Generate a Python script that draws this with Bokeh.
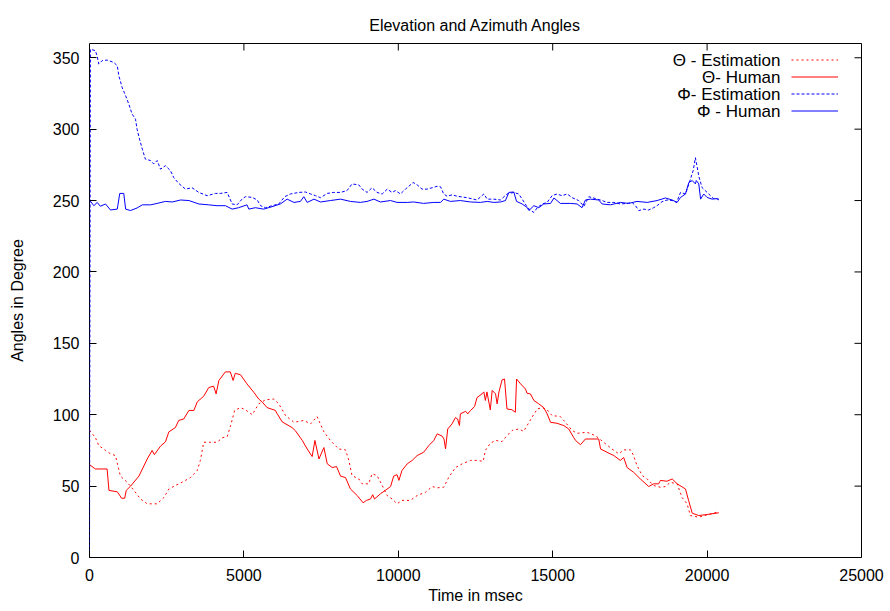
import math
from bokeh.plotting import figure
from bokeh.models import Range1d, Legend, LegendItem, Label
from bokeh.embed import file_html
from bokeh.resources import INLINE

# ---- data (time in msec, angle in degrees) ----
th_h_t = [0, 190, 570, 630, 900, 1040, 1140, 1190, 1330, 1600, 1870, 2030, 2100, 2300, 2460, 2570, 2780, 2890, 3050, 3220,
          3380, 3490, 3700, 3860, 4020, 4100, 4190, 4400, 4560, 4650, 4720, 4890, 5100, 5320, 5480, 5590, 5750, 6020, 6070, 6240,
          6560, 6670, 6890, 7050, 7210, 7300, 7430, 7590, 7700, 7860, 8000, 8130, 8290, 8450, 8670, 8860, 8970, 9100, 9170, 9230,
          9420, 9580, 9750, 9850, 9960, 10020, 10120, 10290, 10450, 10610, 10820, 10990, 11150, 11260, 11420, 11480, 11530, 11600,
          11740, 11850, 11920, 11980, 12010, 12180, 12250, 12340, 12470, 12550, 12710, 12770, 12820, 12870, 12980, 13040, 13150,
          13200, 13260, 13360, 13440, 13520, 13680, 13790, 13830, 13960, 14120, 14170, 14280, 14390, 14550, 14710, 14820, 14930,
          15140, 15360, 15520, 15680, 15740, 15900, 16060, 16490, 16550, 16760, 16980, 17190, 17300, 17410, 17620, 17840, 18110,
          18270, 18430, 18490, 18700, 18870, 19030, 19300, 19400, 19520, 19730, 20000, 20380]
th_h = [65, 62, 62, 47, 46, 41.5, 41.5, 47, 50, 57, 69, 75, 72, 78, 81, 88, 91, 96, 97, 103,
        103, 109, 113, 119, 120, 114.6, 124, 130, 130, 124, 129, 128, 121.6, 115.7, 111, 109, 105, 103, 101, 95,
        91, 88.7, 82, 76, 70.7, 82, 69, 77, 65.6, 63, 63.7, 57, 56, 48, 43.4, 38.3, 40, 41, 44, 41,
        44.6, 47, 49.7, 57, 58, 54, 61, 65.6, 68, 71.4, 73.7, 78.4, 82, 86.6, 85, 83, 76, 90,
        93.6, 98, 97, 92.4, 100.6, 102.4, 100.6, 103, 105.7, 112, 114.6, 116, 110, 116, 103.4, 117, 114.6,
        107.6, 116, 124.4, 125, 104, 103.5, 101.7, 125, 121.6, 118, 115, 114.6, 110, 107.6, 105, 100.6, 94.7,
        94, 92.4, 90, 84, 82, 79, 83, 83, 76, 73.7, 71.4, 68, 70, 63, 59.7, 55, 49.7,
        51.6, 51.6, 54, 53.4, 55, 51.6, 48, 40, 31, 29.4, 30.1, 31.3]

th_e_t = [0, 190, 300, 520, 680, 840, 1000, 1220, 1440, 1650, 1870, 2190, 2410, 2570, 2780, 3000, 3270, 3490, 3590, 3700,
          3920, 4130, 4300, 4460, 4570, 4700, 4890, 5050, 5270, 5480, 5700, 5970, 6130, 6350, 6620, 6940, 7160, 7370, 7590, 7800,
          8070, 8290, 8400, 8500, 8720, 8830, 9040, 9150, 9310, 9480, 9640, 9800, 9960, 10120, 10390, 10610, 10880, 11100, 11260,
          11470, 11630, 11850, 12070, 12340, 12550, 12750, 12820, 12980, 13150, 13360, 13520, 13690, 13900, 14060, 14170, 14330,
          14500, 14660, 14820, 14980, 15250, 15410, 15630, 15790, 16110, 16380, 16650, 16920, 17140, 17300, 17520, 17620, 17730,
          17900, 18060, 18270, 18490, 18650, 18810, 19030, 19190, 19350, 19460, 19730, 20000, 20320]
th_e = [89, 84, 78.4, 75, 72.6, 71.4, 57, 52.7, 47, 41, 37.6, 37.6, 42, 48, 50.4, 52.7, 56, 61, 68, 80.7,
        80.7, 80.7, 83.8, 84.7, 92.4, 103, 105, 103.4, 100, 107.6, 110.4, 111, 107.6, 99.4, 94.7, 96, 93.6, 98.7, 88, 82,
        76, 75.4, 68, 57.4, 55, 51.6, 51.6, 58.6, 57.4, 50.4, 43.4, 41, 37.6, 40, 40, 43.4, 45.7, 49.7, 48.8,
        49.2, 56, 63, 65.6, 68, 68, 67.4, 75, 80, 82, 81.2, 85.4, 89, 90, 88.4, 92.4, 98.2,
        104, 105, 103.4, 99.4, 98.7, 94.7, 89, 87, 87.7, 85.4, 80.7, 76, 72.6, 75.4, 75.4, 71.4, 64.4,
        57.4, 55, 50.4, 49.2, 49.7, 52.7, 51.6, 42, 37.6, 29.4, 28.2, 29.9, 31.7]

ph_h_t = [0, 140, 250, 350, 520, 680, 900, 980, 1110, 1170, 1330, 1540, 1710, 1980, 2190, 2460, 2680, 2950, 3220, 3540,
          3860, 4130, 4400, 4620, 4830, 5100, 5160, 5370, 5640, 5910, 6180, 6400, 6620, 6830, 6940, 7050, 7270, 7480, 7800, 8130,
          8450, 8770, 8990, 9210, 9420, 9750, 9960, 10290, 10500, 10820, 11150, 11370, 11470, 11690, 12010, 12340, 12660, 12880,
          13090, 13310, 13470, 13580, 13740, 13830, 14010, 14170, 14230, 14390, 14550, 14710, 14930, 15040, 15250, 15570, 15790,
          15950, 16060, 16220, 16490, 16600, 16870, 17190, 17460, 17730, 18060, 18380, 18650, 18870, 19030, 19140, 19300, 19410,
          19520, 19620, 19650, 19730, 19790, 19890, 20000, 20160, 20320, 20380]
ph_h = [250.4, 246.4, 248.7, 246, 247.6, 243.4, 244, 255, 255, 244, 243, 244.8, 247, 247, 248, 249.4, 249, 250.4, 250, 247.6,
        247, 246.4, 246.4, 244, 245, 247, 244, 245, 244, 245.7, 247.6, 251, 248.7, 249.4, 252.7, 248.7, 251, 249, 250, 251,
        249.4, 248.7, 249.4, 251, 249, 250, 248.7, 248.7, 249, 248, 248.7, 248.7, 251, 249.4, 250, 249, 248.7, 249.4,
        248.7, 249, 250, 255.7, 256, 249.4, 247.6, 245.2, 243, 246.4, 245, 247.6, 248, 251.8, 248, 248, 247.6,
        245, 250.4, 251, 250.4, 247.6, 247, 248.7, 248, 249.4, 248.7, 250, 251.8, 250.4, 248.7, 252.2, 254.6, 262.7,
        264, 261.7, 264, 261.7, 251, 254.6, 252.2, 251, 251.4, 250.4]

ph_e_t = [0, 30, 190, 250, 300, 410, 570, 790, 900, 950, 1060, 1170, 1270, 1380, 1490, 1540, 1620, 1710, 1810, 1980,
          2080, 2190, 2300, 2460, 2620, 2730, 2890, 3110, 3320, 3540, 3810, 4080, 4240, 4460, 4620, 4780, 4940, 5050, 5270, 5430,
          5540, 5700, 5910, 6130, 6320, 6510, 6780, 6990, 7160, 7320, 7480, 7700, 7910, 8130, 8340, 8500, 8720, 8830, 8990, 9150,
          9310, 9480, 9640, 9800, 9910, 10070, 10230, 10340, 10480, 10610, 10770, 10930, 11100, 11260, 11370, 11470, 11580,
          11740, 11910, 12230, 12550, 12770, 12880, 13090, 13310, 13520, 13740, 13900, 14010, 14150, 14260, 14390, 14500, 14660,
          14820, 14980, 15140, 15300, 15470, 15630, 15840, 16010, 16170, 16380, 16600, 16760, 16980, 17190, 17410, 17570, 17680,
          17790, 17950, 18110, 18270, 18380, 18540, 18700, 18870, 19010, 19140, 19300, 19410, 19550, 19620, 19700, 19730, 19840,
          20000, 20110, 20210, 20380]
ph_e = [0, 356, 355, 351, 345.6, 348, 348.4, 346.7, 344.4, 337.4, 329, 323.4, 317.7, 310.6, 307, 300, 293, 286, 279, 278,
        275.6, 278, 272, 274.4, 271, 266, 262, 258, 259, 255.7, 253.4, 255, 255, 255.7, 247.6, 247, 251, 252.7, 252.2, 250.4,
        246.4, 245, 246.4, 247.6, 252.7, 254.6, 255.7, 256, 254.6, 253.4, 252, 255, 255.7, 255.7, 257, 261.6, 261, 258, 255.7, 259,
        255.7, 254.6, 258, 255.7, 257, 254.6, 258, 260, 262.7, 261, 258, 258, 259, 260, 259.6, 254.6, 253,
        254, 253, 252, 250.4, 254.6, 251, 251, 250.4, 254.6, 255.7, 254.6, 251, 246.4, 243.4, 241.7, 245, 247.6,
        248.7, 253.4, 254.6, 253.4, 254.6, 252, 250, 246, 252.7, 251.4, 250, 248.7, 248.7, 247.6, 248, 248.7, 246.4,
        243, 244, 243.4, 245, 246.4, 249.2, 250.4, 250, 248.7, 255.7, 254.6, 261.7, 271, 280, 271, 267, 259,
        255.7, 253.4, 251.4, 251]

x_ticks = [0, 5000, 10000, 15000, 20000, 25000]
y_ticks = [0, 50, 100, 150, 200, 250, 300, 350]

series_labels = ["\u0398 - Estimation", "\u0398- Human", "\u03a6- Estimation", "\u03a6 - Human"]
title_text = "Elevation and Azimuth Angles"
x_label = "Time in msec"
y_label = "Angles in Degree"

FONT = "Liberation Sans"
RED = "#ff0000"
BLUE = "#0000ff"
X_MAX, Y_MAX = 25000, 360

p = figure(width=890, height=611, output_backend="svg", toolbar_location=None,
           x_range=Range1d(0, X_MAX), y_range=Range1d(0, Y_MAX),
           min_border_left=89, min_border_right=29, min_border_top=43, min_border_bottom=54,
           title=title_text)
p.background_fill_color = "white"
p.border_fill_color = "white"
p.outline_line_color = "black"
p.outline_line_width = 1
p.xgrid.visible = False
p.ygrid.visible = False

p.title.text_font = FONT
p.title.text_font_size = "16px"
p.title.text_font_style = "normal"
p.title.align = "center"
p.title.text_color = "black"
p.title.vertical_align = "top"
p.title.standoff = 16

for ax, tk in ((p.xaxis[0], x_ticks), (p.yaxis[0], y_ticks)):
    ax.ticker = tk
    ax.axis_line_color = None
    ax.major_tick_in = 7
    ax.major_tick_out = 0
    ax.major_tick_line_color = "black"
    ax.minor_tick_line_color = None
    ax.major_label_text_font = FONT
    ax.major_label_text_font_size = "16px"
    ax.major_label_text_color = "black"
    ax.axis_label_text_font = FONT
    ax.axis_label_text_font_size = "16px"
    ax.axis_label_text_font_style = "normal"
    ax.axis_label_text_color = "black"

p.xaxis.axis_label = x_label
p.yaxis.axis_label = y_label
p.xaxis.major_label_standoff = 11
p.xaxis.axis_label_standoff = 3
p.yaxis.major_label_standoff = 10
p.yaxis.axis_label_standoff = 24

# mirrored inward ticks on the top and right sides of the frame
p.ray(x=x_ticks, y=[Y_MAX] * len(x_ticks), length=7, length_units="screen",
      angle=-math.pi / 2, line_color="black", line_width=1)
p.ray(x=[X_MAX] * len(y_ticks), y=y_ticks, length=7, length_units="screen",
      angle=math.pi, line_color="black", line_width=1)

r_te = p.line(th_e_t, th_e, line_color=RED, line_width=1, line_dash="2 3")
r_th = p.line(th_h_t, th_h, line_color=RED, line_width=1)
r_pe = p.line(ph_e_t, ph_e, line_color=BLUE, line_width=1, line_dash="3 2")
r_ph = p.line(ph_h_t, ph_h, line_color=BLUE, line_width=1)

# gnuplot-style key: text right-aligned, sample line to its right
row_h = 17
leg_x, leg_y = 702, 438
legend = Legend(items=[LegendItem(label=" ", renderers=[r]) for r in (r_te, r_th, r_pe, r_ph)],
                location=(leg_x, leg_y), orientation="vertical",
                glyph_width=47, glyph_height=row_h, label_height=row_h, label_width=0,
                label_standoff=0, padding=0, margin=0, spacing=0,
                label_text_font_size="12px",
                background_fill_alpha=0, border_line_alpha=0)
p.add_layout(legend)

for i, txt in enumerate(series_labels):
    p.add_layout(Label(x=leg_x - 11, y=leg_y + row_h * (4 - i) - row_h / 2,
                       x_units="screen", y_units="screen", text=txt,
                       text_align="right", text_baseline="middle",
                       text_font=FONT, text_font_size="17px", text_color="black"))

open("out.html", "w").write(file_html(p, INLINE))
